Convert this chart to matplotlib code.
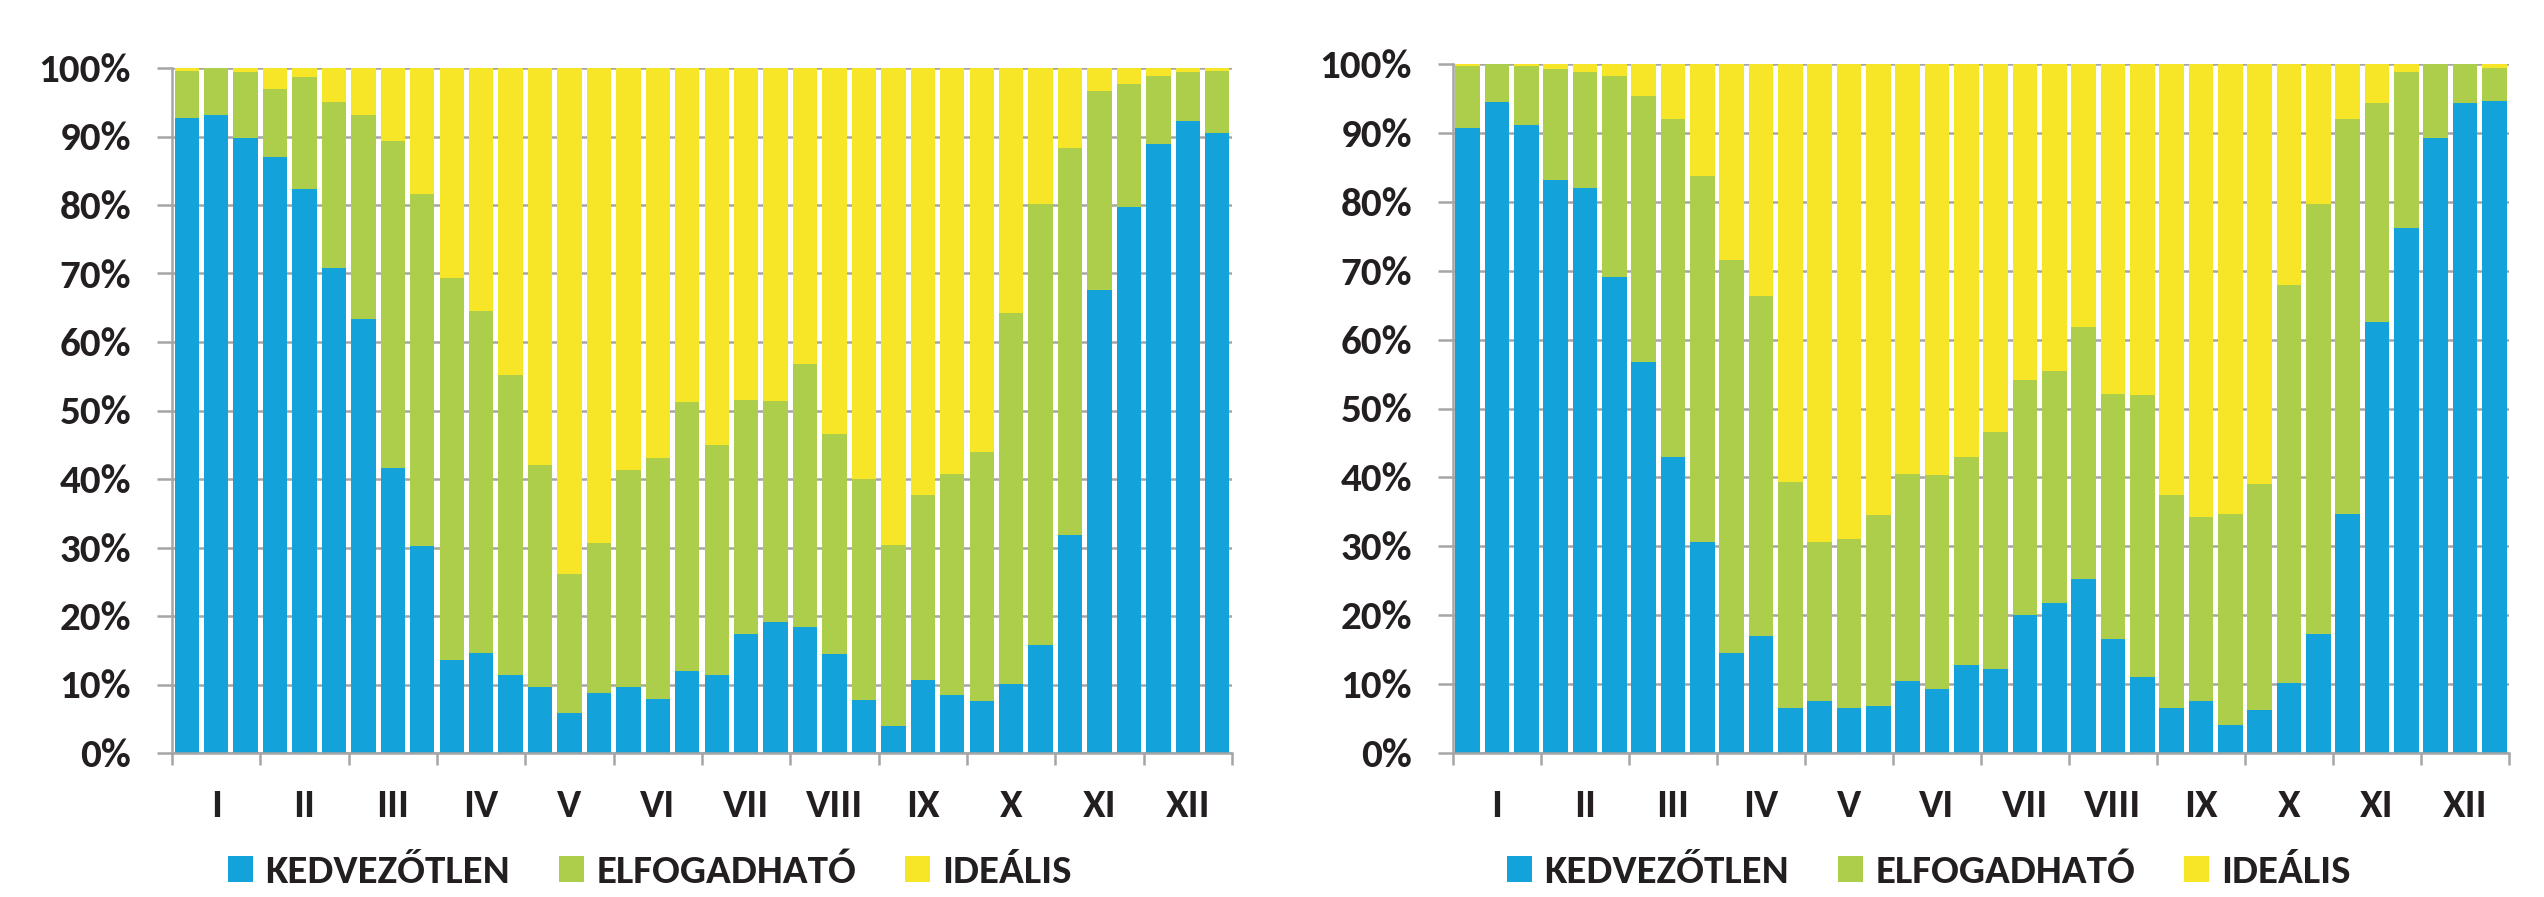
import numpy as np
import matplotlib
matplotlib.use("agg")
from matplotlib import pyplot as plt

months = ["I", "II", "III", "IV", "V", "VI", "VII", "VIII", "IX", "X", "XI", "XII"]
series_names = ["KEDVEZŐTLEN", "ELFOGADHATÓ", "IDEÁLIS"]
colors = ["#14A2DA", "#ADCE4B", "#F7E528"]

# left chart, 36 dekads (%)
left_kedv = [92.7, 93.2, 89.8, 87.0, 82.3, 70.8, 63.3, 41.6, 30.2, 13.6, 14.6, 11.4,
             9.7, 5.9, 8.7, 9.7, 7.9, 11.9, 11.4, 17.4, 19.1, 18.4, 14.4, 7.8,
             3.9, 10.6, 8.5, 7.6, 10.1, 15.7, 31.8, 67.6, 79.7, 88.9, 92.3, 90.5]
left_elf = [6.9, 6.8, 9.6, 10.0, 16.4, 24.3, 29.8, 47.7, 51.4, 55.7, 49.9, 43.8,
            32.3, 20.3, 21.9, 31.6, 35.1, 39.3, 33.6, 34.2, 32.3, 38.4, 32.1, 32.2,
            26.5, 27.1, 32.3, 36.3, 54.1, 64.5, 56.5, 29.1, 17.9, 10.0, 7.1, 9.0]
left_ideal = [0.4, 0.0, 0.6, 3.0, 1.3, 4.9, 6.9, 10.7, 18.4, 30.7, 35.5, 44.8,
              58.0, 73.8, 69.4, 58.7, 57.0, 48.8, 55.0, 48.4, 48.6, 43.2, 53.5, 60.0,
              69.6, 62.3, 59.2, 56.1, 35.8, 19.8, 11.7, 3.3, 2.4, 1.1, 0.6, 0.5]

# right chart
right_kedv = [90.7, 94.5, 91.2, 83.2, 82.0, 69.1, 56.8, 43.0, 30.6, 14.5, 17.0, 6.6,
              7.5, 6.6, 6.8, 10.5, 9.3, 12.8, 12.2, 20.1, 21.7, 25.2, 16.6, 11.1,
              6.6, 7.5, 4.1, 6.2, 10.2, 17.2, 34.7, 62.5, 76.2, 89.3, 94.4, 94.7]
right_elf = [9.0, 5.5, 8.5, 16.1, 16.9, 29.2, 38.5, 49.0, 53.2, 57.1, 49.3, 32.7,
             23.1, 24.4, 27.8, 30.0, 31.1, 30.2, 34.4, 34.1, 33.7, 36.7, 35.5, 40.9,
             30.8, 26.8, 30.6, 32.9, 57.7, 62.5, 57.3, 31.9, 22.6, 10.7, 5.6, 4.7]
right_ideal = [0.3, 0.0, 0.3, 0.7, 1.1, 1.7, 4.7, 8.0, 16.2, 28.4, 33.7, 60.7,
               69.4, 69.0, 65.4, 59.5, 59.6, 57.0, 53.4, 45.8, 44.6, 38.1, 47.9, 48.0,
               62.6, 65.7, 65.3, 60.9, 32.1, 20.3, 8.0, 5.6, 1.2, 0.0, 0.0, 0.6]

# Calibri-like look; falls back to Liberation if Carlito is missing
plt.rcParams["font.family"] = ["Carlito", "Liberation Sans", "DejaVu Sans"]
plt.rcParams["font.weight"] = "bold"
plt.rcParams["text.color"] = "#231F20"

grey = "#A5A5A5"
W, H = 2544, 897
fs = 41
fig = plt.figure(figsize=(W / 72, H / 72), dpi=72)


def draw(rect, kedv, elf, ideal, legend_x):
    ax = fig.add_axes(rect)
    x = np.arange(len(kedv))
    bottom = np.zeros(len(kedv))
    handles = []
    for vals, col, name in zip([kedv, elf, ideal], colors, series_names):
        vals = np.array(vals)
        b = ax.bar(x, vals, 0.83, bottom=bottom, color=col, label=name, zorder=2)
        bottom = bottom + vals
        handles.append(b)

    ax.set_xlim(-0.5, len(kedv) - 0.5)
    ax.set_ylim(0, 100)
    ax.set_yticks(np.arange(0, 101, 10))
    ax.set_yticklabels([f"{v}%" for v in range(0, 101, 10)])
    ax.yaxis.grid(True, color=grey, linewidth=2.5, zorder=0)
    ax.set_axisbelow(True)

    ax.set_xticks(np.arange(-0.5, 36, 3))
    ax.set_xticklabels([])
    ax.set_xticks(np.arange(1, 36, 3), minor=True)
    ax.set_xticklabels(months, minor=True)
    ax.tick_params(axis="x", which="major", length=12, width=2.5, color=grey, direction="out")
    ax.tick_params(axis="x", which="minor", length=0, pad=36, labelsize=fs, labelcolor="#231F20")
    ax.tick_params(axis="y", length=15, width=2.5, color=grey, pad=26, labelsize=fs, labelcolor="#231F20")

    for s in ["top", "right"]:
        ax.spines[s].set_visible(False)
    for s in ["left", "bottom"]:
        ax.spines[s].set_color(grey)
        ax.spines[s].set_linewidth(2.5)

    fig.legend(handles, series_names, loc="center", ncol=3, frameon=False,
               bbox_to_anchor=(legend_x / W, 1 - 872 / H), fontsize=fs,
               handlelength=0.6, handleheight=0.6, handletextpad=0.3,
               columnspacing=1.2)
    return ax


draw([172 / W, 1 - 753 / H, 1060 / W, (753 - 68) / H],
     left_kedv, left_elf, left_ideal, 650)
draw([1453 / W, 1 - 753 / H, 1056 / W, (753 - 64) / H],
     right_kedv, right_elf, right_ideal, 1929)

fig.savefig("out.png", dpi=72)
